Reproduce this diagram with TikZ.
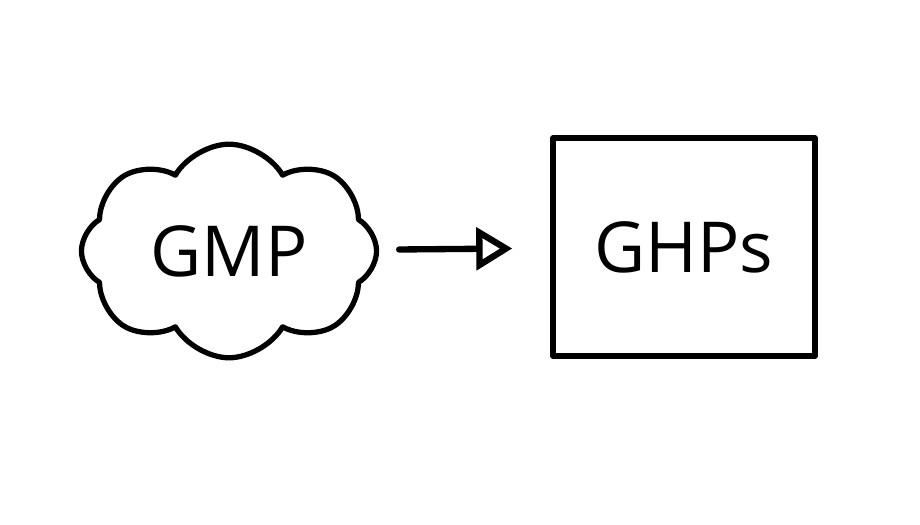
\documentclass[tikz,border=0pt]{standalone}
\usepackage{fontspec}
\setmainfont{Open Sans}
\usetikzlibrary{shapes.symbols,arrows.meta}

\tikzset{
  sketch/.style={draw=black, line width=1.5pt, line join=round},
  label text/.style={font=\fontsize{20}{24}\selectfont},
  flow/.style={black, line width=1.8pt, line cap=round, line join=round, -{Triangle[open,length=0.36cm,width=0.42cm]}}
}

\begin{document}
\begin{tikzpicture}[x=0.01cm,y=-0.01cm]
                \useasboundingbox (0,0) rectangle (920,525);
                % cloud with GMP
                \node [sketch, label text, cloud, cloud puffs=8, cloud puff arc=120, aspect=1.5,
                       minimum width=2.95cm, minimum height=2.0cm] (gmp) at (229,251) {GMP};
                % box with GHPs
                \node [sketch, label text, rectangle, minimum width=2.62cm, minimum height=2.18cm] (ghps) at (684,247) {GHPs};
                % arrow between them
                \draw [flow, shorten <=0.2cm, shorten >=0.38cm] (gmp) -- (ghps);
            \end{tikzpicture}
\end{document}
